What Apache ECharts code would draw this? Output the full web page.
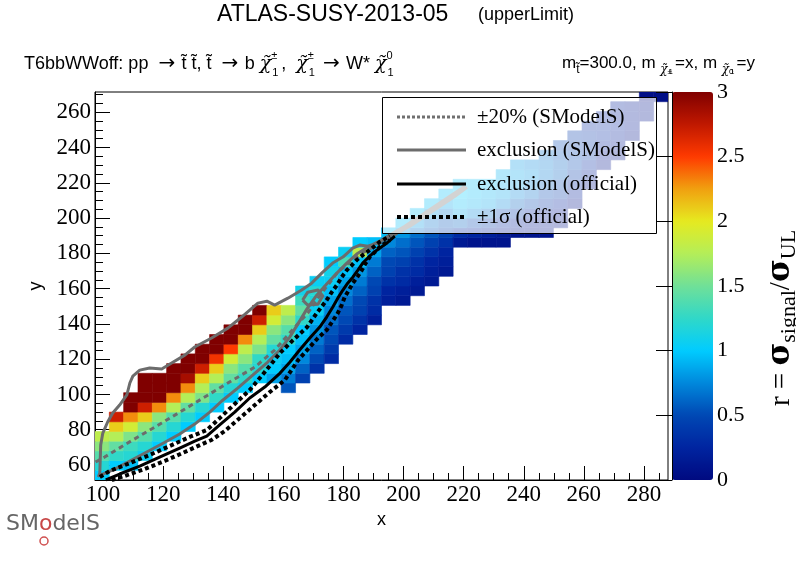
<!DOCTYPE html>
<html><head><meta charset="utf-8">
<script src="https://cdn.jsdelivr.net/npm/echarts@6.0.0/dist/echarts.min.js"></script>
<style>html,body{margin:0;padding:0;background:#fff}#c{width:796px;height:572px}</style>
</head><body><div id="c"></div>
<script>
// ---- axis ranges / bins ----
const X_MIN = 97.3, X_MAX = 288.0, Y_MIN = 51.5, Y_MAX = 271.5, N_BINS = 40;
const xTicks = [100,120,140,160,180,200,220,240,260,280];
const xMinorTicks = [100,105,110,115,120,125,130,135,140,145,150,155,160,165,170,175,180,185,190,195,200,205,210,215,220,225,230,235,240,245,250,255,260,265,270,275,280,285];
const yTicks = [60,80,100,120,140,160,180,200,220,240,260];
const yMinorTicks = [55,60,65,70,75,80,85,90,95,100,105,110,115,120,125,130,135,140,145,150,155,160,165,170,175,180,185,190,195,200,205,210,215,220,225,230,235,240,245,250,255,260,265,270];
const zTicks = [0,0.5,1,1.5,2,2.5,3];

// ---- r values per x-bin column: first filled y-bin and values bottom->top ----
const colStartRow = [0,1,1,2,3,4,5,6,7,8,9,10,10,9,10,11,12,14,15,16,18,18,19,20,21,24,24,24,24,25,25,25,26,28,30,32,33,35,37,39];
const colValues = [
 [1.0,1.2,1.4,1.6,1.8],
 [1.0,1.25,1.45,1.75,2.1,2.7],
 [0.95,1.2,1.3,1.55,1.9,2.3,3.0,3.0],
 [1.05,1.2,1.4,1.6,2.1,2.7,3.0,3.0,3.0],
 [1.0,1.2,1.4,1.6,2.3,3.0,3.0,3.0],
 [1.0,1.2,1.4,1.75,2.3,3.0,3.0,3.0],
 [1.0,1.2,1.45,1.75,2.3,2.85,3.0,3.0],
 [1.0,1.2,1.55,1.75,2.1,2.7,3.0,3.0],
 [1.0,1.25,1.45,1.75,2.1,2.55,3.0,3.0],
 [1.0,1.2,1.45,1.6,1.9,2.5,3.0,3.0],
 [1.0,1.25,1.4,1.6,1.8,2.3,3.0,3.0],
 [1.0,1.2,1.25,1.55,1.75,2.1,2.7,3.0],
 [0.85,1.0,1.05,1.2,1.45,1.6,1.9,2.1],
 [0.55,0.7,0.85,0.95,1.0,1.25,1.4,1.6,1.8],
 [0.45,0.6,0.75,0.85,0.95,1.0,1.25,1.45,1.3,1.1],
 [0.35,0.5,0.6,0.7,0.8,0.9,1.05,1.15,1.2,1.05],
 [0.3,0.4,0.5,0.55,0.65,0.75,0.85,0.95,1.05,1.1,1.0],
 [0.3,0.4,0.5,0.55,0.65,0.75,0.85,0.95,1.35,1.05],
 [0.25,0.35,0.45,0.5,0.6,0.7,0.8,0.95,1.8,1.0],
 [0.2,0.3,0.35,0.45,0.5,0.6,0.7,0.85,0.95],
 [0.2,0.25,0.35,0.45,0.5,0.6,0.75,0.95],
 [0.15,0.2,0.3,0.35,0.45,0.55,0.65,0.8,0.95],
 [0.15,0.2,0.3,0.35,0.45,0.55,0.65,0.8,0.95],
 [0.15,0.2,0.25,0.35,0.45,0.55,0.65,0.8,0.95],
 [0.15,0.2,0.25,0.35,0.45,0.55,0.7,0.85,0.95],
 [0.15,0.3,0.6,0.85,0.95,1.0,0.95],
 [0.1,0.25,0.5,0.75,0.9,0.95,0.95],
 [0.1,0.2,0.4,0.65,0.85,0.9,0.95],
 [0.1,0.15,0.3,0.5,0.75,0.85,0.9,0.9],
 [0.1,0.2,0.4,0.6,0.75,0.85,0.85,0.8],
 [0.1,0.15,0.3,0.5,0.65,0.75,0.8,0.75],
 [0.1,0.15,0.2,0.35,0.5,0.6,0.7,0.7,0.65],
 [0.1,0.15,0.25,0.4,0.5,0.6,0.6,0.55,0.5],
 [0.1,0.2,0.3,0.4,0.5,0.5,0.45,0.4],
 [0.1,0.2,0.3,0.4,0.4,0.35,0.3],
 [0.1,0.15,0.25,0.3,0.3,0.25],
 [0.1,0.15,0.2,0.25,0.2,0.2],
 [0.1,0.15,0.15,0.15],
 [0.1,0.1,0.05],
 [0.05]
];

// ---- contours (x, y) ----
const officialExcl = [[100.9,51.5],[105.5,54.9],[112.2,59.4],[118.8,64.5],[125.5,69.6],[130.5,73.6],[134.5,76.4],[138.8,82.7],[143.8,90.0],[148.8,98.0],[153.8,104.2],[158.9,112.1],[162.2,118.4],[165.4,125.2],[168.8,132.0],[172.1,138.2],[174.4,143.9],[176.4,149.5],[178.1,154.6],[179.8,159.2],[181.4,163.1],[183.1,166.5],[184.8,170.5],[186.4,174.5],[188.7,178.4],[191.1,181.8],[194.4,185.8],[197.1,189.8]];
const officialUp = [[98.9,53.2],[102.2,56.6],[108.9,61.1],[115.5,65.7],[122.2,70.8],[128.8,75.9],[134.5,79.8],[138.8,86.6],[143.8,94.6],[148.8,102.5],[153.8,112.7],[158.9,123.5],[163.2,130.8],[167.9,138.2],[171.1,146.1],[174.4,153.5],[176.1,158.0],[177.8,162.0],[179.4,166.5],[181.1,170.5],[182.8,173.3],[184.4,176.2],[186.4,179.0],[188.7,181.8],[192.0,186.4],[195.4,189.8]];
const officialDown = [[102.9,51.5],[107.2,53.8],[113.8,57.7],[120.5,62.3],[127.2,67.4],[132.2,71.3],[136.1,74.2],[140.5,79.3],[145.5,86.6],[150.5,94.0],[155.5,101.4],[160.5,108.2],[164.9,119.5],[168.8,126.9],[171.5,132.0],[174.4,136.5],[176.4,141.6],[178.1,146.1],[179.4,150.7],[180.4,155.2],[181.8,159.2],[183.1,163.1],[184.8,167.1],[186.1,170.5],[187.4,174.5],[188.7,177.9],[190.4,180.7],[192.0,183.5],[195.4,187.5]];
const smodelsExcl = [[221.1,217.5],[217.1,212.4],[212.1,206.7],[207.1,201.1],[202.1,195.4],[197.7,191.5],[193.7,188.1],[191.1,185.8],[188.1,184.1],[185.4,184.7],[183.1,183.0],[179.8,177.9],[176.4,174.5],[173.1,169.4],[169.4,163.1],[166.1,159.2],[161.5,154.6],[157.1,150.7],[154.5,152.9],[151.5,151.8],[146.1,143.9],[141.5,137.6],[136.1,132.0],[130.5,126.9],[127.2,122.3],[122.8,117.8],[119.5,114.4],[115.5,115.0],[112.2,113.8],[109.9,110.4],[108.9,106.5],[107.9,99.7],[105.5,94.0],[103.2,89.5],[101.5,84.4],[99.9,78.1],[99.2,71.3],[98.9,55.5],[98.5,53.8],[103.9,57.7],[108.9,62.3],[113.9,66.8],[119.5,71.9],[125.5,77.6],[130.5,83.2],[135.5,90.0],[139.5,96.3],[144.8,103.6],[149.8,111.0],[154.8,118.4],[158.8,125.2],[162.1,132.5],[164.8,139.9],[167.8,148.4],[171.1,156.3],[174.4,162.6],[177.8,168.8],[181.1,174.5],[184.4,179.6],[188.0,183.5],[192.0,186.9],[196.0,190.9],[200.4,195.4],[205.4,201.1],[210.4,206.7],[215.4,212.4],[220.4,218.1]];
const smodelsIsland = [[166.4,153.5],[168.1,158.0],[171.5,159.2],[173.1,155.8],[171.5,151.2],[168.1,150.7],[166.4,153.5]];
const smodels20 = [[97.5,61.7],[100.5,64.5],[108.2,72.5],[119.5,83.8],[130.5,95.1],[141.5,106.5],[150.5,115.5],[157.1,125.2],[163.8,138.2],[168.1,146.1],[171.5,154.6],[174.8,162.0],[178.1,169.4],[182.1,175.0],[186.1,180.1],[190.4,184.1],[194.7,188.6],[198.7,192.0],[203.7,197.7],[208.7,203.4],[213.7,209.0],[218.7,214.7],[221.4,218.1]];

const palette = ['#000a80','#0024a0','#0048b4','#0088dc','#00ccff','#30d8c8','#70e098','#b4ee58','#e6ea20','#f0a010','#ff3a00','#c01800','#800000'];

// ---- build cells ----
const BW = (X_MAX - X_MIN) / N_BINS, BH = (Y_MAX - Y_MIN) / N_BINS;
const cells = [];
colValues.forEach((vals, i) => {
  vals.forEach((v, k) => {
    if (v === null) return;
    const row = colStartRow[i] + k;
    cells.push([X_MIN + (i + 0.5) * BW, Y_MIN + (row + 0.5) * BH, v]);
  });
});

const SERIF = '"Liberation Serif","DejaVu Serif",serif';
const SANS = '"Liberation Sans","DejaVu Sans",sans-serif';

const chart = echarts.init(document.getElementById('c'), null, {renderer: 'canvas'});

const lineSeries = (data, color, width, type, z) => ({
  type: 'line', data, xAxisIndex: 0, yAxisIndex: 0, showSymbol: false, symbol: 'none',
  lineStyle: {color, width, type, cap: 'butt', join: 'round'}, z, silent: true, clip: true, animation: false
});

chart.setOption({
  animation: false,
  backgroundColor: '#fff',
  grid: [
    {left: 95, right: 128, top: 92, bottom: 92, show: true, borderColor: '#000', borderWidth: 1, backgroundColor: 'transparent'},
    {left: 672, width: 41, top: 92, height: 388, show: false}
  ],
  xAxis: [
    {type: 'value', gridIndex: 0, min: X_MIN, max: X_MAX, position: 'bottom',
     axisLine: {show: true, onZero: false, lineStyle: {color: '#000', width: 1}},
     axisTick: {show: true, inside: true, length: 14, customValues: xTicks, lineStyle: {color: '#000'}},
     axisLabel: {customValues: xTicks, color: '#000', fontFamily: SERIF, fontSize: 23, margin: 3},
     splitLine: {show: false},
     name: 'x', nameLocation: 'middle', nameGap: 25, nameTextStyle: {fontFamily: SANS, fontSize: 18, color: '#000'}},
    {type: 'value', gridIndex: 0, min: X_MIN, max: X_MAX, position: 'bottom',
     axisLine: {show: false}, axisLabel: {show: false}, splitLine: {show: false},
     axisTick: {show: true, inside: true, length: 7, customValues: xMinorTicks, lineStyle: {color: '#000'}}},
    {type: 'value', gridIndex: 1, min: 0, max: 1, show: false}
  ],
  yAxis: [
    {type: 'value', gridIndex: 0, min: Y_MIN, max: Y_MAX, position: 'left',
     axisLine: {show: true, onZero: false, lineStyle: {color: '#000', width: 1}},
     axisTick: {show: true, inside: true, length: 15, customValues: yTicks, lineStyle: {color: '#000'}},
     axisLabel: {customValues: yTicks, color: '#000', fontFamily: SERIF, fontSize: 23, margin: 4},
     splitLine: {show: false},
     name: 'y', nameLocation: 'middle', nameGap: 50, nameRotate: 90, nameTextStyle: {fontFamily: SANS, fontSize: 18, color: '#000'}},
    {type: 'value', gridIndex: 0, min: Y_MIN, max: Y_MAX, position: 'left',
     axisLine: {show: false}, axisLabel: {show: false}, splitLine: {show: false},
     axisTick: {show: true, inside: true, length: 8, customValues: yMinorTicks, lineStyle: {color: '#000'}}},
    {type: 'value', gridIndex: 1, min: 0, max: 3, position: 'right', z: 20,
     axisLine: {show: true, lineStyle: {color: '#000', width: 1}},
     axisTick: {show: true, inside: true, length: 16, customValues: zTicks, lineStyle: {color: '#000'}},
     axisLabel: {customValues: zTicks, color: '#000', fontFamily: SERIF, fontSize: 22, margin: 4},
     splitLine: {show: false}}
  ],
  visualMap: {
    type: 'continuous', min: 0, max: 3, seriesIndex: 0, dimension: 2,
    inRange: {color: palette}, calculable: false, hoverLink: false, realtime: false,
    orient: 'vertical', left: 672, top: 92, itemWidth: 41, itemHeight: 388, padding: 0,
    text: null, showLabel: false, z: 5
  },
  series: [
    {type: 'custom', xAxisIndex: 0, yAxisIndex: 0, data: cells, encode: {x: 0, y: 1}, clip: true, silent: true, z: 1,
     renderItem: (params, api) => {
       const x = api.value(0), y = api.value(1);
       const p0 = api.coord([x - BW / 2, y + BH / 2]);
       const p1 = api.coord([x + BW / 2, y - BH / 2]);
       const c = api.visual('color');
       return {type: 'rect', shape: {x: p0[0], y: p0[1], width: p1[0] - p0[0], height: p1[1] - p0[1]},
               style: {fill: c, stroke: c, lineWidth: 0.6}};
     }},
    lineSeries(smodels20, '#6c6c6c', 3, [5, 4], 3),
    lineSeries(smodelsExcl, '#6c6c6c', 3, 'solid', 3),
    lineSeries(smodelsIsland, '#6c6c6c', 3, 'solid', 3),
    lineSeries(officialExcl, '#000', 3, 'solid', 4),
    lineSeries(officialUp, '#000', 4, [4, 3], 4),
    lineSeries(officialDown, '#000', 4, [4, 3], 4)
  ],
  graphic: [
    {type: 'text', x: 217, y: 15, z: 50, style: {text: 'ATLAS-SUSY-2013-05', font: '23px ' + SANS, fill: '#000', verticalAlign: 'middle'}},
    {type: 'text', x: 478, y: 15, z: 50, style: {text: '(upperLimit)', font: '18px ' + SANS, fill: '#000', verticalAlign: 'middle'}},
    {type: 'text', x: 24, y: 50, z: 50, style: {
      text: '{n|T6bbWWoff: pp  }{a|→ }{n|t̃ t̃, t̃  }{a|→ }{n|b }{g|χ̃}{sp|±}{sb|1}{n|,  }{g|χ̃}{sp|±}{sb|1}{n| }{a|→ }{n|W* }{g|χ̃}{sp|0}{sb|1}',
      verticalAlign: 'top', fill: '#000',
      rich: {
        n: {fontFamily: SANS, fontSize: 18, lineHeight: 28},
        a: {fontFamily: '"DejaVu Sans",sans-serif', fontSize: 20, lineHeight: 28},
        g: {fontFamily: '"DejaVu Serif",serif', fontStyle: 'italic', fontSize: 19, lineHeight: 28},
        sp: {fontFamily: SANS, fontSize: 11, lineHeight: 14, verticalAlign: 'top', width: 1},
        sb: {fontFamily: SANS, fontSize: 11, lineHeight: 11, verticalAlign: 'bottom', padding: [0, 3, 0, 0]}
      }}},
    {type: 'text', x: 562, y: 50, z: 50, style: {
      text: '{n|m}{sb|t̃}{n|=300.0, m }{g|χ̃}{sp|±}{ss|1}{n|=x, m }{g|χ̃}{sp|0}{ss|1}{n|=y}',
      verticalAlign: 'top', fill: '#000',
      rich: {
        n: {fontFamily: SANS, fontSize: 17, lineHeight: 26},
        sb: {fontFamily: SANS, fontSize: 12, lineHeight: 14, verticalAlign: 'bottom'},
        g: {fontFamily: '"DejaVu Serif",serif', fontStyle: 'italic', fontSize: 12, lineHeight: 16, verticalAlign: 'bottom'},
        sp: {fontFamily: SANS, fontSize: 8, lineHeight: 20, verticalAlign: 'bottom', width: 1},
        ss: {fontFamily: SANS, fontSize: 8, lineHeight: 7, verticalAlign: 'bottom', padding: [0, 2, 0, 0]}
      }}},
    {type: 'text', x: 781, y: 318, rotation: Math.PI / 2, z: 50, style: {
      text: '{r|r = }{s|σ}{sb|signal}{r|/}{s|σ}{sb|UL}', align: 'center', verticalAlign: 'middle', fill: '#000',
      rich: {
        r: {fontFamily: SERIF, fontSize: 29, lineHeight: 38},
        s: {fontFamily: '"DejaVu Serif",serif', fontWeight: 'bold', fontSize: 31, lineHeight: 38},
        sb: {fontFamily: SERIF, fontSize: 22, lineHeight: 22, verticalAlign: 'bottom'}
      }}},
    // legend box
    {type: 'rect', z: 100, shape: {x: 382.5, y: 97.5, width: 274, height: 136}, style: {fill: 'rgba(255,255,255,0.7)', stroke: '#000', lineWidth: 1}},
    {type: 'line', z: 101, shape: {x1: 397, y1: 117, x2: 466, y2: 117}, style: {stroke: '#707070', lineWidth: 3, lineDash: [3, 2]}},
    {type: 'line', z: 101, shape: {x1: 397, y1: 150, x2: 466, y2: 150}, style: {stroke: '#6c6c6c', lineWidth: 3}},
    {type: 'line', z: 101, shape: {x1: 397, y1: 184, x2: 466, y2: 184}, style: {stroke: '#000', lineWidth: 3}},
    {type: 'line', z: 101, shape: {x1: 397, y1: 217, x2: 466, y2: 217}, style: {stroke: '#000', lineWidth: 4, lineDash: [4, 3]}},
    {type: 'text', z: 101, x: 477, y: 117, style: {text: '±20% (SModelS)', font: '21px ' + SERIF, fill: '#000', verticalAlign: 'middle'}},
    {type: 'text', z: 101, x: 477, y: 150, style: {text: 'exclusion (SModelS)', font: '21px ' + SERIF, fill: '#000', verticalAlign: 'middle'}},
    {type: 'text', z: 101, x: 477, y: 184, style: {text: 'exclusion (official)', font: '21px ' + SERIF, fill: '#000', verticalAlign: 'middle'}},
    {type: 'text', z: 101, x: 477, y: 217, style: {text: '±1σ (official)', font: '21px ' + SERIF, fill: '#000', verticalAlign: 'middle'}},
    // logo
    {type: 'text', z: 50, x: 6, y: 524, style: {
      text: '{a|SM}{b|o}{a|delS}', verticalAlign: 'middle', rich: {
        a: {fontFamily: '"DejaVu Sans",sans-serif', fontSize: 22, fill: '#666'},
        b: {fontFamily: '"DejaVu Sans",sans-serif', fontSize: 22, fill: '#c84848'}
      }}},
    {type: 'circle', z: 50, shape: {cx: 44, cy: 541, r: 4}, style: {fill: 'none', stroke: '#d05050', lineWidth: 1.5}}
  ]
});
</script></body></html>
